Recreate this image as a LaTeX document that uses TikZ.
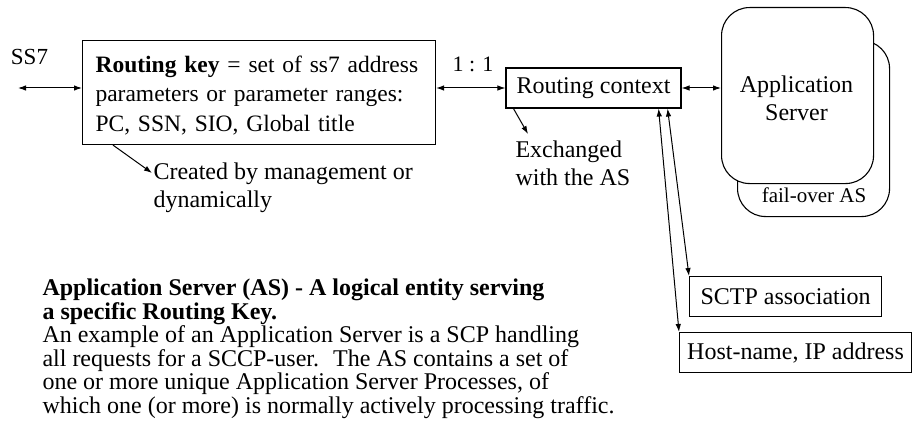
\documentclass[tikz,border=0pt]{standalone}
\usepackage{fontspec}
\setmainfont{Liberation Serif}
\usetikzlibrary{arrows.meta}
\begin{document}
\begin{tikzpicture}[x=1pt,y=-1pt, line width=1pt,
  tip/.style={-{Latex[length=8pt,width=5.5pt]}},
  bitip/.style={{Latex[length=8pt,width=5.5pt]}-{Latex[length=8pt,width=5.5pt]}},
  box/.style={draw, line width=1.1pt, inner sep=0pt},
  txt/.style={inner sep=0pt, align=left, font=\fontsize{24}{28}\selectfont},
  asbox/.style={draw, fill=white, rounded corners=28pt, line width=1.1pt, minimum width=152pt, minimum height=176pt, anchor=north west, inner sep=0pt}]
\path[use as bounding box] (0,0) rectangle (913,441);

% Routing key box
\node[box, anchor=north west, minimum width=353pt, minimum height=104pt, text width=327pt, align=left, font=\fontsize{23.5}{29.5}\selectfont] (key) at (82,40)
  {\rule{0pt}{22.5pt}\mbox{\textbf{Routing key} = set of ss7 address}\\\mbox{parameters or parameter ranges:}\\\mbox{PC, SSN, SIO, Global title}};

% SS7
\node[txt, font=\fontsize{23}{28}\selectfont] (ss7) at (29.5,56.5) {SS7};
\coordinate (ss7end) at (18,88);
\draw[bitip] (ss7end) -- (ss7end -| key.west);

% Routing context
\node[box, minimum width=175pt, minimum height=40pt, font=\fontsize{24}{28}\selectfont] (ctx) at (593.5,88) {Routing context};
\draw[bitip] (key.east |- ctx.west) -- (ctx.west);
\node[txt, font=\fontsize{22}{26}\selectfont] (ratio) at (473,64.5) {1 : 1};

% Application servers
\node[asbox] (fail) at (737,40) {};
\node[asbox] (as) at (721,7) {};
\node[txt, align=center] (astext) at (796.5,97.8) {Application\\Server};
\node[txt, font=\fontsize{21}{25}\selectfont] (failtext) at (814,195) {fail-over AS};
\draw[bitip] (ctx.east) -- (ctx.east -| as.west);

% Exchanged
\node[txt, anchor=west] (exch) at (515,163) {Exchanged\\with the AS};
\coordinate (exchtip) at (528,134);
\draw[tip] ([xshift=8pt]ctx.south west) -- (exchtip);

% Created
\node[txt, anchor=west, font=\fontsize{24}{28.5}\selectfont] (created) at (153,188) {Created by management or\\dynamically};
\coordinate (createdtip) at (152,173);
\draw[tip] ([xshift=31pt]key.south west) -- (createdtip);

% SCTP and host
\node[box, anchor=north west, minimum width=192pt, minimum height=40pt, font=\fontsize{24}{28}\selectfont] (sctp) at (689,276) {SCTP association};
\node[box, anchor=north west, minimum width=232pt, minimum height=40pt, font=\fontsize{24}{28}\selectfont] (host) at (679,332) {Host-name, IP address};
\draw[bitip] ([xshift=-14pt]ctx.south east) -- (sctp.north west);
\draw[bitip] ([xshift=-23pt]ctx.south east) -- (host.north west);

% Paragraph
\node[inner sep=0pt, anchor=west, align=left, font={\fontsize{24}{23.5}\selectfont\lineskiplimit=-20pt}] (para) at (42,349)
  {\textbf{Application Server (AS) - A logical entity serving}\\
   \textbf{a specific Routing Key.}\\
   An example of an Application Server is a SCP handling\\
   all requests for a SCCP-user.~ The AS contains a set of\\
   one or more unique Application Server Processes, of\\
   which one (or more) is normally actively processing traffic.};
\end{tikzpicture}
\end{document}
